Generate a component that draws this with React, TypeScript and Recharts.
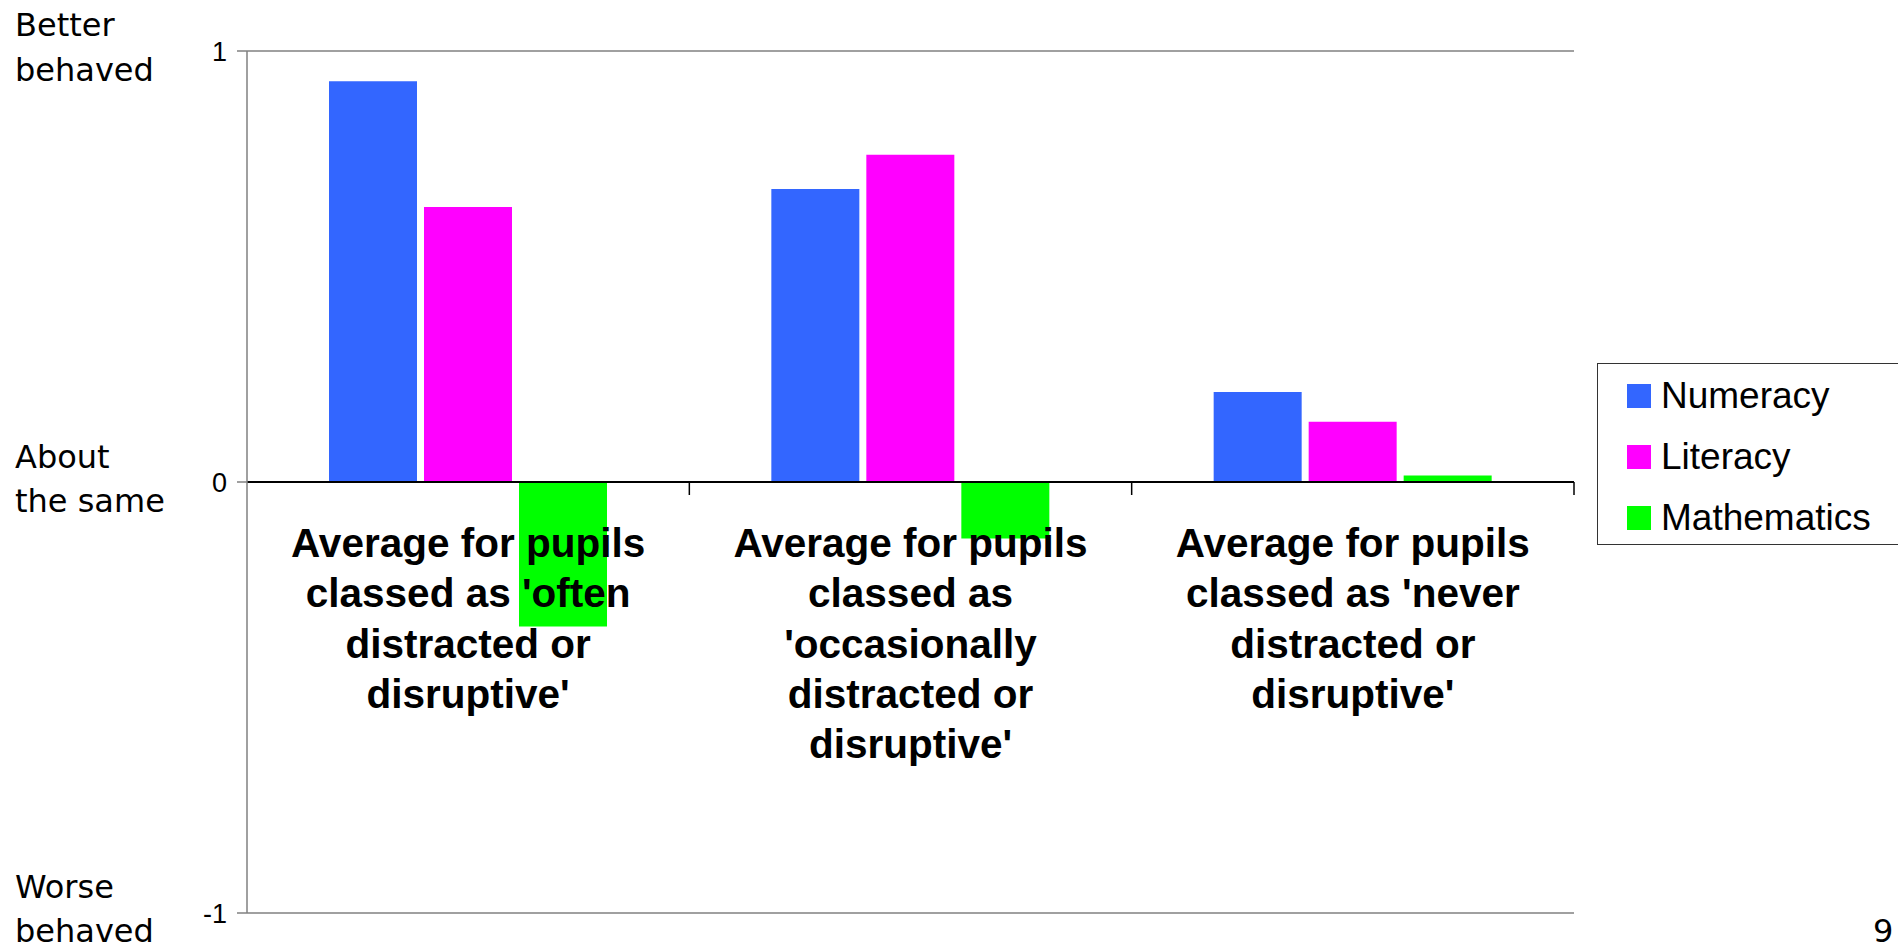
import React from 'react';
import { BarChart, Bar, XAxis, YAxis, CartesianGrid, ReferenceLine, Legend } from 'recharts';

const categories = [
  "Average for pupils\nclassed as 'often\ndistracted or\ndisruptive'",
  "Average for pupils\nclassed as\n'occasionally\ndistracted or\ndisruptive'",
  "Average for pupils\nclassed as 'never\ndistracted or\ndisruptive'",
];
const seriesNames = ['Numeracy', 'Literacy', 'Mathematics'];
const numeracy = [0.93, 0.68, 0.209];
const literacy = [0.638, 0.759, 0.14];
const mathematics = [-0.335, -0.131, 0.015];
const yTicks = [-1, 0, 1];

const data = categories.map((c, i) => ({
  name: c,
  Numeracy: numeracy[i],
  Literacy: literacy[i],
  Mathematics: mathematics[i],
}));

const W = 1898;
const H = 950;
const X_H = 37;
const M = { top: 51, right: 324, left: 0, bottom: 0 };
const Y_W = 247;
const PLOT_W = W - Y_W - M.left - M.right;
const PLOT_H = H - M.top - M.bottom - X_H;
const BAND = PLOT_W / categories.length;

const XTick = (props: any) => {
  const { x, y, payload } = props;
  const zeroY = y - PLOT_H / 2;
  const lines = String(payload.value).split('\n');
  return (
    <g>
      <line x1={x + BAND / 2} x2={x + BAND / 2} y1={zeroY} y2={zeroY + 13} stroke="#000" strokeWidth={1.5} />
      <text
        x={x}
        y={zeroY + 75}
        textAnchor="middle"
        fontFamily="'Liberation Sans', Arial, sans-serif"
        fontWeight="bold"
        fontSize={40.5}
        fill="#000"
      >
        {lines.map((l, i) => (
          <tspan key={i} x={x} dy={i === 0 ? 0 : 50.3}>
            {l}
          </tspan>
        ))}
      </text>
    </g>
  );
};

const LegendContent = (props: any) => {
  const payload = [...(props.payload || [])].sort(
    (a: any, b: any) => seriesNames.indexOf(a.value) - seriesNames.indexOf(b.value)
  );
  return (
    <div
      style={{
        width: '100%',
        height: '100%',
        boxSizing: 'border-box',
        border: '1.5px solid #333',
        background: '#fff',
        paddingTop: 1,
      }}
    >
      {payload.map((p: any, i: number) => (
        <div key={i} style={{ display: 'flex', alignItems: 'center', height: 61, marginLeft: 29 }}>
          <div style={{ width: 24, height: 24, background: p.color, marginRight: 10 }} />
          <span
            style={{
              fontFamily: "'Liberation Sans', Arial, sans-serif",
              fontSize: 37,
              color: '#000',
              lineHeight: '61px',
            }}
          >
            {p.value}
          </span>
        </div>
      ))}
    </div>
  );
};

const sideFont = "'DejaVu Sans', Verdana, sans-serif";

export default function App() {
  return (
    <div style={{ position: 'absolute', left: 0, top: 0, width: W, height: H, background: '#fff' }}>
      <BarChart width={W} height={H} data={data} margin={M} barSize={88} barGap={7}>
        <CartesianGrid horizontal vertical={false} stroke="#808080" strokeWidth={1.5} />
        <XAxis
          dataKey="name"
          height={X_H}
          axisLine={false}
          tickLine={false}
          tickSize={0}
          tickMargin={0}
          tick={<XTick />}
          interval={0}
        />
        <YAxis
          width={Y_W}
          domain={[-1, 1]}
          ticks={yTicks}
          interval={0}
          axisLine={{ stroke: '#808080', strokeWidth: 1.5 }}
          tickLine={{ stroke: '#808080', strokeWidth: 1.5 }}
          tickSize={10}
          tickMargin={10}
          tick={{ fill: '#000', fontSize: 27, fontFamily: "'Liberation Sans', Arial, sans-serif" }}
        />
        <Legend
          layout="horizontal"
          verticalAlign="middle"
          align="center"
          wrapperStyle={{ left: 1597, top: 363, width: 330, height: 182 }}
          content={<LegendContent />}
        />
        <Bar dataKey="Numeracy" fill="#3366FF" isAnimationActive={false} />
        <Bar dataKey="Literacy" fill="#FF00FF" isAnimationActive={false} />
        <Bar dataKey="Mathematics" fill="#00FF00" isAnimationActive={false} />
        <ReferenceLine y={0} stroke="#000" strokeWidth={2} />
      </BarChart>
      <svg width={W} height={H} style={{ position: 'absolute', left: 0, top: 0, pointerEvents: 'none' }}>
        <g fontFamily={sideFont} fontSize={32} fill="#000">
          <text x={15} y={36}>Better</text>
          <text x={15} y={81}>behaved</text>
          <text x={15} y={468}>About</text>
          <text x={15} y={512}>the same</text>
          <text x={15} y={898}>Worse</text>
          <text x={15} y={942}>behaved</text>
        </g>
        <text x={1873} y={942} fontFamily={sideFont} fontSize={32} fill="#000">9</text>
      </svg>
    </div>
  );
}
